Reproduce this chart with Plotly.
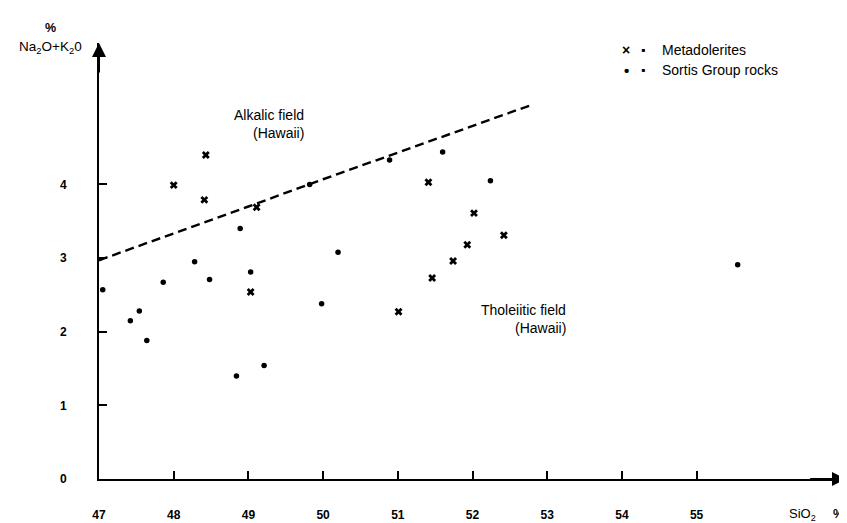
import plotly.graph_objects as go

# Metadolerites (crosses)
meta_sio2 = [48.0, 48.43, 48.41, 49.11, 49.03, 51.41, 52.02, 52.42, 51.93, 51.74, 51.46, 51.01]
meta_alk = [3.99, 4.40, 3.79, 3.69, 2.54, 4.03, 3.61, 3.31, 3.18, 2.96, 2.73, 2.27]

# Sortis Group rocks (dots)
sortis_sio2 = [47.05, 47.42, 47.54, 47.64, 47.86, 48.28, 48.48, 48.89, 49.03, 48.84, 49.21,
               49.82, 50.20, 49.98, 50.89, 51.60, 52.24, 55.55]
sortis_alk = [2.57, 2.15, 2.28, 1.88, 2.67, 2.95, 2.71, 3.40, 2.81, 1.40, 1.54,
              4.00, 3.08, 2.38, 4.33, 4.44, 4.05, 2.91]

# Alkalic / tholeiitic dividing line (Hawaii)
div_sio2 = [47.0, 48.0, 49.0, 50.0, 51.0, 52.0, 52.82]
div_alk = [2.97, 3.33, 3.70, 4.07, 4.43, 4.80, 5.09]

x_ticks = [47, 48, 49, 50, 51, 52, 53, 54, 55]
y_ticks = [0, 1, 2, 3, 4]

FONT = "Liberation Sans, Arial, sans-serif"
W, H = 847, 523
L, R, T, B = 91, 9, 35, 44
X0, X1 = L, W - R          # pixel span of plot area
Y0, Y1 = H - B, T

fig = go.Figure()
fig.add_trace(go.Scatter(x=div_sio2, y=div_alk, mode="lines",
                         line=dict(color="black", width=2.4, dash="9px,5px"),
                         showlegend=False, hoverinfo="skip"))
fig.add_trace(go.Scatter(x=meta_sio2, y=meta_alk, mode="markers", name="Metadolerites",
                         marker=dict(symbol="x", size=7, color="black", line=dict(width=0)),
                         showlegend=False))
fig.add_trace(go.Scatter(x=sortis_sio2, y=sortis_alk, mode="markers", name="Sortis Group rocks",
                         marker=dict(symbol="circle", size=5.5, color="black"),
                         showlegend=False))

fig.update_xaxes(range=[47, 57], showgrid=False, zeroline=False,
                 showline=True, linecolor="black", linewidth=2,
                 ticks="inside", ticklen=8, tickwidth=1.5, tickcolor="black",
                 tickvals=x_ticks, ticktext=[str(v) for v in x_ticks],
                 ticklabelstandoff=24,
                 tickfont=dict(family=FONT, size=12, color="black", weight="bold"))
fig.update_yaxes(range=[0, 5.92], showgrid=False, zeroline=False,
                 showline=True, linecolor="black", linewidth=2,
                 ticks="inside", ticklen=8, tickwidth=1.5, tickcolor="black",
                 tickvals=y_ticks, ticktext=[str(v) for v in y_ticks],
                 ticklabelstandoff=28,
                 tickfont=dict(family=FONT, size=12, color="black", weight="bold"))

ann = []
# axis arrowheads
ann.append(dict(x=57, y=0, ax=56.5, ay=0, xref="x", yref="y", axref="x", ayref="y",
                text="", showarrow=True, arrowhead=2, arrowsize=1.4, arrowwidth=2,
                arrowcolor="black"))
ann.append(dict(x=47, y=5.92, ax=47, ay=5.5, xref="x", yref="y", axref="x", ayref="y",
                text="", showarrow=True, arrowhead=2, arrowsize=1.4, arrowwidth=2,
                arrowcolor="black"))


def pa(xp, yp, s, xanchor="center", size=12, weight="normal"):
    ann.append(dict(x=(xp - X0) / (X1 - X0), y=(Y0 - yp) / (Y0 - Y1),
                    xref="paper", yref="paper", text=s, showarrow=False,
                    xanchor=xanchor, yanchor="middle",
                    font=dict(family=FONT, size=size, color="black", weight=weight)))


# axis titles
pa(42, 20, "%", size=12.5, weight="bold")
pa(42, 40, "Na<sub>2</sub>O+K<sub>2</sub>0", size=13.5)
pa(794, 515, "SiO<sub>2</sub>", size=13)
pa(830, 515, "%", size=12.5, weight="bold")
# field labels
pa(298, 108, "Alkalic field", xanchor="right", size=14)
pa(298, 127, "(Hawaii)", xanchor="right", size=14)
pa(560, 307, "Tholeiitic field", xanchor="right", size=14)
pa(560, 325, "(Hawaii)", xanchor="right", size=14)
# legend
pa(618, 42, "×", size=14, weight="bold")
pa(635, 42, "▪", size=12)
pa(652, 42, "Metadolerites", xanchor="left", size=14)
pa(618, 63, "•", size=15, weight="bold")
pa(635, 63, "▪", size=12)
pa(652, 63, "Sortis Group rocks", xanchor="left", size=14)

fig.update_layout(annotations=ann,
                  width=W, height=H, margin=dict(l=L, r=R, t=T, b=B),
                  plot_bgcolor="white", paper_bgcolor="white",
                  font=dict(family=FONT, color="black"))

fig.write_html("out.html")
